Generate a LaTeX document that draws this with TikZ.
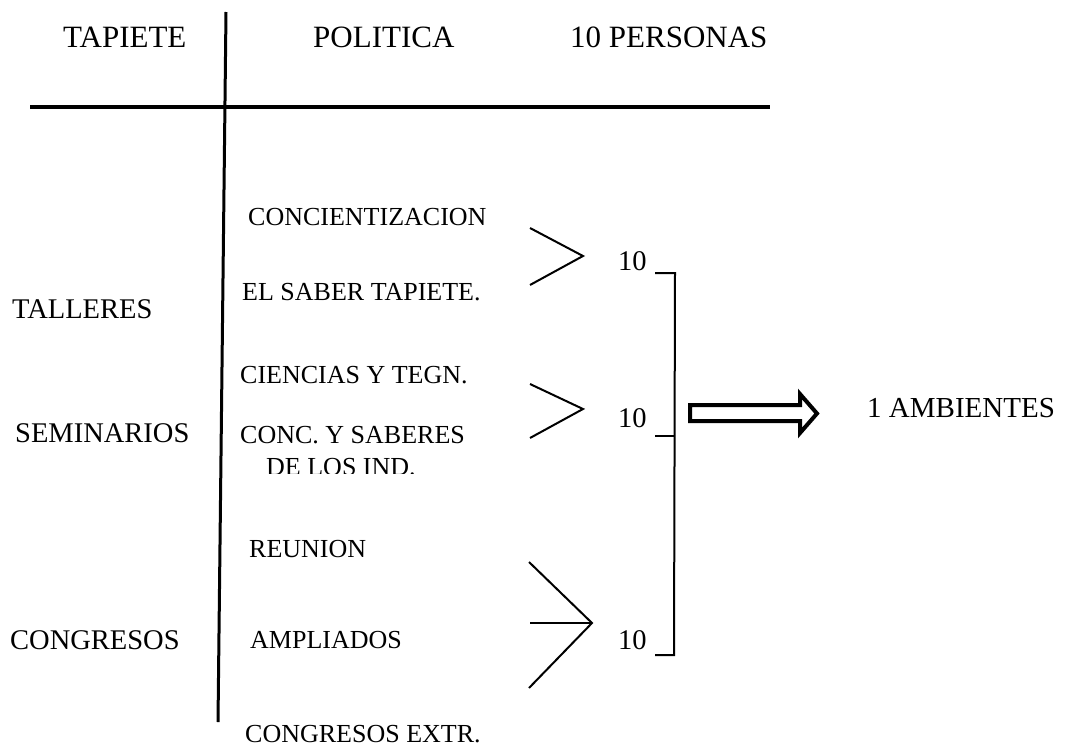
\documentclass[tikz,border=0pt]{standalone}
\usepackage{fontspec}
\setmainfont{Liberation Serif}
\tikzset{
  lbl/.style={inner sep=0pt, anchor=base west},
  hdr/.style={lbl, font=\fontsize{31}{36}\selectfont},
  lft/.style={lbl, font=\fontsize{28.5}{33}\selectfont},
  bod/.style={lbl, font=\fontsize{26}{30}\selectfont},
  num/.style={lbl, font=\fontsize{28.5}{32}\selectfont},
  rule/.style={line width=3.5pt},
  thin/.style={line width=2pt},
}
\begin{document}
\begin{tikzpicture}[x=1pt,y=-1pt]
\useasboundingbox (0,0) rectangle (1074,747);
% headers
\node[hdr] (tapiete) at (63,47) {TAPIETE};
\node[hdr] (politica) at (313,47) {POLITICA};
\node[hdr] (personas) at (570,47) {10 PERSONAS};
% table rules
\coordinate (hl) at (30,107);
\coordinate (hr) at (770,107);
\coordinate (vt) at (226,12);
\coordinate (vb) at (218,722);
\draw[rule] (hl) -- (hr);
\draw[line width=3pt] (vt) -- (vb);
% left column
\node[lft] (talleres) at (12,318) {TALLERES};
\node[lft] (seminarios) at (15,442) {SEMINARIOS};
\node[lft] (congresos) at (10,649) {CONGRESOS};
% middle column
\node[bod] (conc) at (248,225) {CONCIENTIZACION};
\node[bod] (saber) at (242,300) {EL SABER TAPIETE.};
\node[bod] (ciencias) at (240,383) {CIENCIAS Y TEGN.};
\node[bod] (saberes) at (240,443) {CONC. Y SABERES};
\begin{scope}
\clip (230,448) rectangle (500,473);
\node[bod] (ind) at (266,475) {DE LOS IND.};
\end{scope}
\node[bod] (reunion) at (249,557) {REUNION};
\node[bod] (ampliados) at (250,648) {AMPLIADOS};
\node[bod] (extr) at (245,742) {CONGRESOS EXTR.};
% chevrons
\coordinate (a1) at (530,228); \coordinate (t1) at (583,256); \coordinate (b1) at (530,285);
\coordinate (a2) at (530,384); \coordinate (t2) at (583,409); \coordinate (b2) at (530,438);
\coordinate (a3) at (529,562); \coordinate (t3) at (592,623); \coordinate (b3) at (529,688);
\coordinate (m3) at (530,623);
\draw[thin] (a1) -- (t1) -- (b1);
\draw[thin] (a2) -- (t2) -- (b2);
\draw[thin] (a3) -- (t3) -- (b3);
\draw[thin] (m3) -- (t3);
% counts
\node[num] (n1) at (618,270) {10};
\node[num] (n2) at (618,427) {10};
\node[num] (n3) at (618,649) {10};
% bracket
\coordinate (k1) at (655,273); \coordinate (k1r) at (675,273);
\coordinate (k2) at (655,436); \coordinate (k2r) at (675,436);
\coordinate (k3) at (655,655); \coordinate (k3r) at (674,655);
\draw[thin] (k1) -- (k1r) -- (k3r) -- (k3);
\draw[thin] (k2) -- (k2r);
% outline arrow
\draw[line width=4pt, fill=white, line join=miter]
  (690,405) -- (800,405) -- (800,394) -- (817,413.5) -- (800,433) -- (800,421) -- (690,421) -- cycle;
\node[lbl, font=\fontsize{29}{34}\selectfont] (amb) at (867,417) {1 AMBIENTES};
\end{tikzpicture}
\end{document}
